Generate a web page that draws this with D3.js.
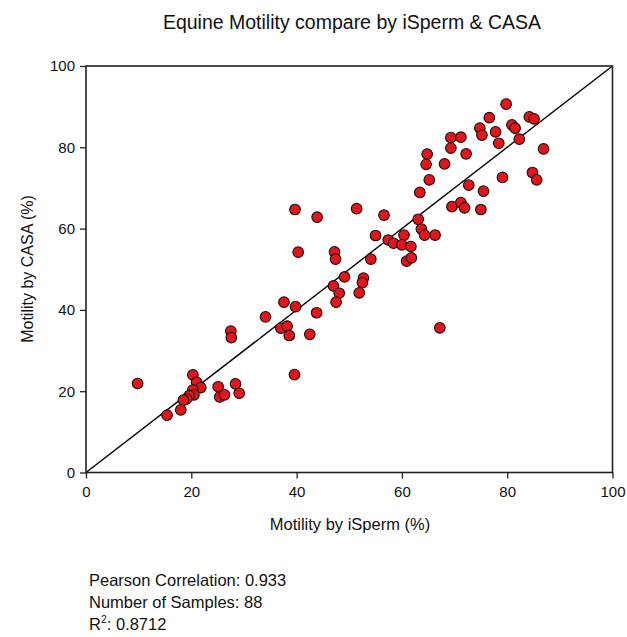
<!DOCTYPE html>
<html>
<head>
<meta charset="utf-8">
<script src="https://cdn.jsdelivr.net/npm/d3@7"></script>
<style>
  html, body { margin: 0; padding: 0; background: #fff; }
  svg text { font-family: "Liberation Sans", Arial, sans-serif; fill: #111; }
</style>
</head>
<body>
<svg id="chart" width="627" height="637"></svg>
<script>
// iSperm (x) vs CASA (y) motility values, %
const isperm = [79.8, 76.6, 84.2, 85.1, 74.8, 75.2, 77.8, 80.9, 81.5, 82.3, 78.4, 69.3, 71.2, 69.3, 72.2, 64.8, 64.6, 68.1, 86.9, 65.2, 72.7, 75.5, 79.1, 84.8, 85.6, 63.4, 69.5, 71.2, 71.9, 75.0, 66.3, 67.2, 39.7, 43.9, 51.4, 56.6, 63.1, 63.7, 64.3, 55.0, 57.4, 58.4, 60.4, 60.0, 61.7, 60.9, 61.8, 40.3, 47.2, 47.4, 54.1, 49.1, 52.7, 52.5, 51.9, 47.0, 48.1, 47.5, 37.6, 39.8, 43.8, 34.1, 37.0, 38.2, 38.6, 42.5, 39.6, 27.5, 27.6, 9.8, 20.3, 21.0, 21.8, 20.3, 20.5, 19.6, 19.1, 18.5, 15.4, 18.0, 25.1, 25.4, 26.3, 28.4, 29.1];
const casa   = [90.6, 87.3, 87.5, 87.0, 84.7, 83.0, 83.8, 85.5, 84.7, 82.0, 81.0, 82.4, 82.5, 79.8, 78.4, 78.3, 75.8, 75.9, 79.6, 72.0, 70.7, 69.2, 72.6, 73.8, 72.0, 68.9, 65.4, 66.4, 65.1, 64.7, 58.4, 35.6, 64.7, 62.8, 64.9, 63.3, 62.3, 59.9, 58.4, 58.3, 57.2, 56.4, 58.4, 56.0, 55.6, 52.0, 52.8, 54.2, 54.3, 52.5, 52.5, 48.1, 47.8, 46.7, 44.2, 45.9, 44.1, 41.9, 41.9, 40.8, 39.3, 38.3, 35.5, 36.0, 33.7, 34.0, 24.1, 34.8, 33.2, 21.9, 24.0, 22.2, 20.9, 20.3, 19.1, 18.9, 18.1, 17.8, 14.1, 15.4, 21.1, 18.6, 19.1, 21.8, 19.5];
const xTicks = [0, 20, 40, 60, 80, 100];
const yTicks = [0, 20, 40, 60, 80, 100];
const titleText = "Equine Motility compare by iSperm & CASA";
const xLabel = "Motility by iSperm (%)";
const yLabel = "Motility by CASA (%)";
const stats = ["Pearson Correlation: 0.933", "Number of Samples: 88"];
const r2Value = "0.8712";

const svg = d3.select("#chart");
const L = 86, R = 612.5, T = 66, B = 472.5;
const x = d3.scaleLinear().domain([0, 100]).range([L, R]);
const y = d3.scaleLinear().domain([0, 100]).range([B, T]);

// title
svg.append("text").attr("x", 352).attr("y", 29).attr("text-anchor", "middle")
  .attr("font-size", 19.5).text(titleText);

// diagonal line of identity
svg.append("line")
  .attr("x1", x(0)).attr("y1", y(0)).attr("x2", x(100)).attr("y2", y(100))
  .attr("stroke", "#000").attr("stroke-width", 1.4);

// points
svg.append("g").selectAll("circle").data(isperm.map((v, i) => [v, casa[i]]))
  .join("circle")
  .attr("cx", d => x(d[0])).attr("cy", d => y(d[1])).attr("r", 5.3)
  .attr("fill", "#e3141a").attr("stroke", "#1a0a0a").attr("stroke-width", 1.1);

// frame
svg.append("rect").attr("x", L).attr("y", T).attr("width", R - L).attr("height", B - T)
  .attr("fill", "none").attr("stroke", "#222").attr("stroke-width", 1.6);

// axes
const xAxis = svg.append("g").attr("transform", `translate(0,${B})`)
  .call(d3.axisBottom(x).tickValues(xTicks).tickSize(6).tickSizeOuter(0).tickPadding(8));
const yAxis = svg.append("g").attr("transform", `translate(${L},0)`)
  .call(d3.axisLeft(y).tickValues(yTicks).tickSize(6).tickSizeOuter(0).tickPadding(5));
[xAxis, yAxis].forEach(a => {
  a.select(".domain").remove();
  a.selectAll(".tick line").attr("stroke", "#222").attr("stroke-width", 1.3);
  a.selectAll(".tick text").attr("font-size", 15).attr("fill", "#111")
    .attr("font-family", "'Liberation Sans', Arial, sans-serif");
});

// axis labels
svg.append("text").attr("x", 350).attr("y", 530).attr("text-anchor", "middle")
  .attr("font-size", 16.5).text(xLabel);
svg.append("text").attr("transform", "translate(33,269) rotate(-90)")
  .attr("text-anchor", "middle").attr("font-size", 16).text(yLabel);

// stats
stats.forEach((s, i) => {
  svg.append("text").attr("x", 89).attr("y", 586 + i * 22).attr("font-size", 16.5).text(s);
});
const r2 = svg.append("text").attr("x", 89).attr("y", 630).attr("font-size", 16.5);
r2.append("tspan").text("R");
r2.append("tspan").attr("font-size", 10.5).attr("dy", -7).text("2");
r2.append("tspan").attr("dy", 7).text(": " + r2Value);
</script>
</body>
</html>
